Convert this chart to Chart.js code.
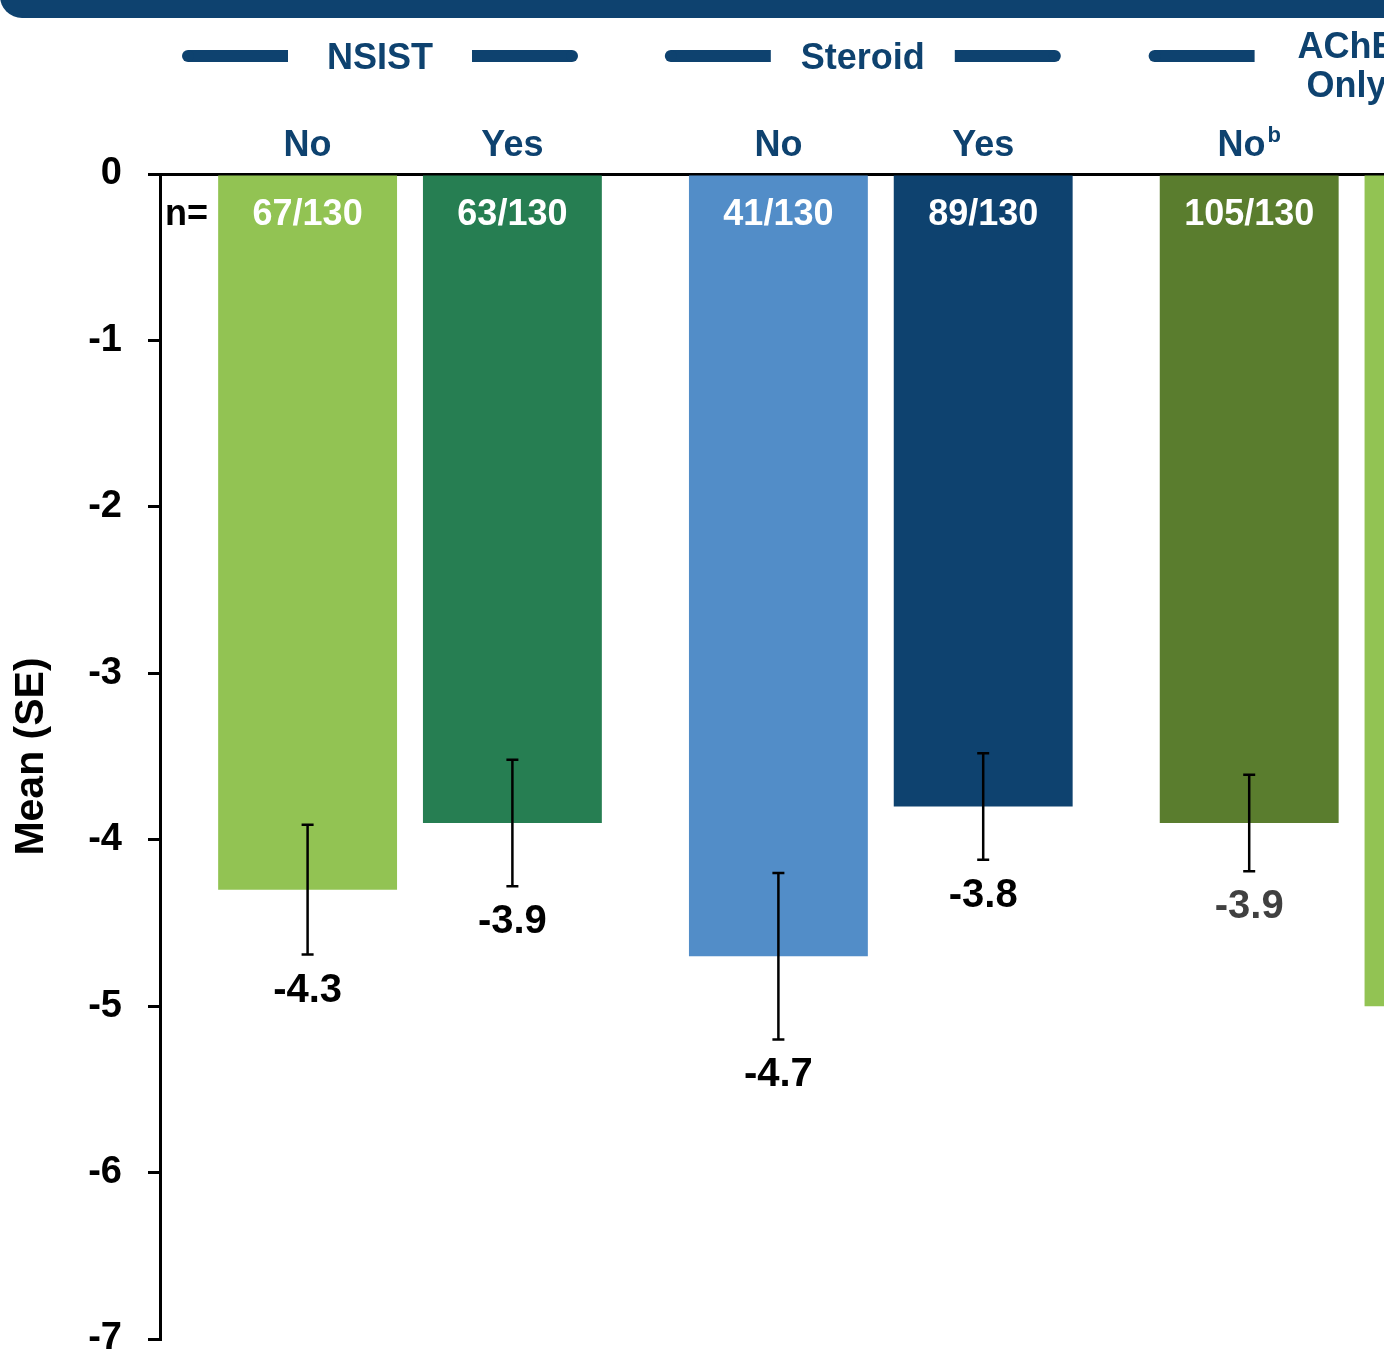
<!DOCTYPE html>
<html>
<head>
<meta charset="utf-8">
<script src="https://cdn.jsdelivr.net/npm/chart.js@4/dist/chart.umd.min.js"></script>
<style>
  html, body { margin: 0; padding: 0; background: #fff; overflow: hidden; }
  #wrap { position: relative; width: 1384px; height: 1372px; overflow: hidden; }
  #banner { position: absolute; left: 0; top: -40px; width: 1800px; height: 58px; background: #0e426f; border-radius: 22px; z-index: 2; }
  #box { position: absolute; left: 0; top: 0; width: 1700px; height: 1372px; }
</style>
</head>
<body>
<div id="wrap">
  <div id="banner"></div>
  <div id="box"><canvas id="c" width="1700" height="1372"></canvas></div>
</div>
<script>
// treatment groups, each split into No / Yes
const groups = [["NSIST"], ["Steroid"], ["AChE", "Only"]];
const subLabels = ["No", "Yes"];
const noNotes = ["", "", "b"];
const noValues = [-4.3, -4.7, -3.9];
const yesValues = [-3.9, -3.8, -5.0];
const noSE = [0.39, 0.50, 0.29];
const yesSE = [0.38, 0.32, 0.45];
const noN = [67, 41, 105];
const yesN = [63, 89, 25];
const totalN = 130;
const yMin = -7;
const yMax = 0;

const NAVY = "#0e426f";
const FONT = '"Liberation Sans", Arial, sans-serif';
const font = (s) => `bold ${s}px ${FONT}`;

const overlay = {
  id: "overlay",
  afterDatasetsDraw(chart) {
    const { ctx, scales: { x, y } } = chart;
    ctx.save();
    ctx.textAlign = "center";
    ctx.textBaseline = "middle";

    chart.data.datasets.forEach((ds, di) => {
      const meta = chart.getDatasetMeta(di);
      meta.data.forEach((bar, i) => {
        const v = ds.data[i].y;
        const se = ds.se[i];
        const hi = y.getPixelForValue(v + se);
        const lo = y.getPixelForValue(v - se);

        // error bar
        ctx.strokeStyle = "#000";
        ctx.lineWidth = 2.5;
        ctx.beginPath();
        ctx.moveTo(bar.x, hi); ctx.lineTo(bar.x, lo);
        ctx.moveTo(bar.x - 6, hi); ctx.lineTo(bar.x + 6, hi);
        ctx.moveTo(bar.x - 6, lo); ctx.lineTo(bar.x + 6, lo);
        ctx.stroke();

        // mean value under the bar
        ctx.fillStyle = ds.valueColors[i];
        ctx.font = font(40);
        ctx.fillText(v.toFixed(1), bar.x, lo + 36);

        // n inside the bar
        ctx.fillStyle = "#fff";
        ctx.font = font(36);
        ctx.fillText(ds.n[i] + "/" + totalN, bar.x, y.top + 41);

        // No / Yes label with optional footnote
        const main = ds.label;
        const note = ds.notes[i];
        ctx.font = font(36);
        const w1 = ctx.measureText(main).width;
        ctx.font = font(22);
        const w2 = note ? ctx.measureText(note).width + 2 : 0;
        const left = bar.x - (w1 + w2) / 2;
        ctx.textAlign = "left";
        ctx.fillStyle = NAVY;
        ctx.font = font(36);
        ctx.fillText(main, left, y.top - 28);
        if (note) {
          ctx.font = font(22);
          ctx.fillText(note, left + w1 + 2, y.top - 38);
        }
        ctx.textAlign = "center";
      });
    });

    // "n=" marker
    ctx.textAlign = "left";
    ctx.fillStyle = "#000";
    ctx.font = font(36);
    ctx.fillText("n=", x.left + 5, y.top + 41);

    // group headers with dashes
    const shifts = [-30, -18, -5];
    const m0 = chart.getDatasetMeta(0).data;
    const m1 = chart.getDatasetMeta(1).data;
    groups.forEach((g, i) => {
      const cx = (m0[i].x + m1[i].x) / 2 + shifts[i];
      const dy = y.top - 118;
      ctx.fillStyle = NAVY;
      ctx.textAlign = "center";
      ctx.font = font(36);
      if (g.length === 1) {
        ctx.fillText(g[0], cx, dy + 3);
      } else {
        ctx.fillText(g[0], cx, dy - 8);
        ctx.fillText(g[1], cx, dy + 31);
      }
      ctx.strokeStyle = NAVY;
      ctx.lineWidth = 12;
      ctx.lineCap = "butt";
      [-1, 1].forEach((s) => {
        ctx.beginPath();
        ctx.moveTo(cx + s * 92, dy);
        ctx.lineTo(cx + s * 192, dy);
        ctx.stroke();
        ctx.beginPath();
        ctx.arc(cx + s * 192, dy, 6, 0, Math.PI * 2);
        ctx.fill();
      });
    });
    ctx.restore();
  }
};

new Chart(document.getElementById("c"), {
  type: "bar",
  data: {
    datasets: [
      {
        label: subLabels[0],
        data: noValues.map((v, i) => ({ x: i, y: v })),
        se: noSE,
        n: noN,
        notes: noNotes,
        backgroundColor: ["#92c353", "#528dc8", "#5a7d2e"],
        valueColors: ["#000", "#000", "#404040"]
      },
      {
        label: subLabels[1],
        data: yesValues.map((v, i) => ({ x: i, y: v })),
        se: yesSE,
        n: yesN,
        notes: ["", "", ""],
        backgroundColor: ["#267e52", "#0e426f", "#92c353"],
        valueColors: ["#000", "#000", "#000"]
      }
    ]
  },
  options: {
    responsive: false,
    animation: false,
    categoryPercentage: 0.87,
    barPercentage: 0.8735,
    layout: { padding: { top: 174, bottom: 33, left: 0, right: 0 } },
    plugins: {
      legend: { display: false },
      tooltip: { enabled: false }
    },
    scales: {
      x: {
        type: "linear",
        offset: false,
        min: -0.531,
        max: 2.74,
        display: false,
        afterBuildTicks: (scale) => { scale.ticks = groups.map((g, i) => ({ value: i })); }
      },
      y: {
        min: yMin,
        max: yMax,
        afterFit: (scale) => {
          scale.width = 160;
          scale.paddingTop = 0;
          scale.paddingBottom = 0;
        },
        ticks: {
          stepSize: 1,
          color: "#000",
          padding: 26,
          font: { family: FONT, size: 38, weight: "bold" }
        },
        grid: {
          drawOnChartArea: true,
          color: (c) => (c.tick && c.tick.value === 0 ? "#000" : "rgba(0,0,0,0)"),
          tickColor: "#000",
          lineWidth: 3,
          tickWidth: 3,
          tickLength: 12
        },
        border: { color: "#000", width: 3 },
        title: {
          display: true,
          text: "Mean (SE)",
          color: "#000",
          padding: { top: 7 },
          font: { family: FONT, size: 41, weight: "bold" }
        }
      }
    }
  },
  plugins: [overlay]
});
</script>
</body>
</html>
